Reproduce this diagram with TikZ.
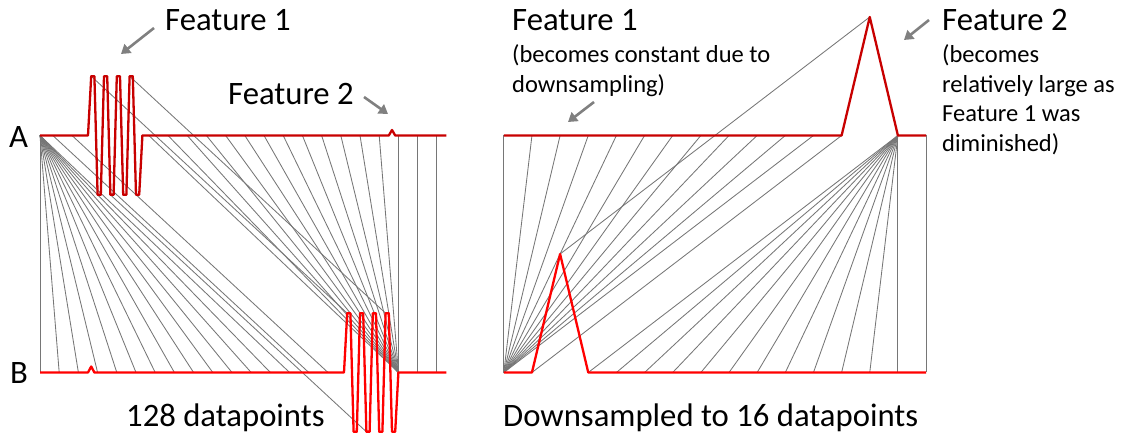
\documentclass[tikz,border=0pt]{standalone}
\usepackage{fontspec}
\setmainfont{Carlito}
\usetikzlibrary{arrows.meta}
\definecolor{sigdark}{RGB}{200,0,0}
\definecolor{sigbright}{RGB}{255,0,0}
\definecolor{linkgray}{RGB}{118,118,118}
\definecolor{pointgray}{RGB}{128,128,128}
\begin{document}
\begin{tikzpicture}[x=1pt,y=-1pt,
  link/.style={draw=linkgray, line width=0.85pt},
  sigA/.style={draw=sigdark, line width=2.3pt, line join=round},
  sigB/.style={draw=sigbright, line width=2.3pt, line join=round},
  big/.style={font=\fontsize{32.7}{39}\selectfont, inner sep=0pt, anchor=base west},
  small/.style={font=\fontsize{24.5}{29.6}\selectfont, inner sep=0pt, anchor=base west},
  pointer/.style={draw=pointgray, line width=2.6pt, -{Triangle[length=9pt,width=11pt]}}]
\useasboundingbox (0,0) rectangle (1122,435);

% ---------------- left panel: 128 samples ----------------
\foreach \i in {0,...,127}{
  \pgfmathsetmacro\k{\i-16}
  \pgfmathsetmacro\offA{ifthenelse(and(\k>=0,\k<=15), ifthenelse(mod(floor(\k/2),2)==0,-59.3,59.3), ifthenelse(\i==110,-5.5,0))}
  \pgfmathsetmacro\kb{\i-96}
  \pgfmathsetmacro\offB{ifthenelse(and(\kb>=0,\kb<=15), ifthenelse(mod(floor(\kb/2),2)==0,-59.3,59.3), ifthenelse(\i==16,-6,0))}
  \coordinate (a\i) at ({40+3.2*\i},{135.5+\offA});
  \coordinate (b\i) at ({40+3.2*\i},{372.5+\offB});
}
% warping links (every 6th step of the path)
\foreach \s in {0,6,...,204}{
  \pgfmathtruncatemacro\ii{max(0,\s-80)}
  \pgfmathtruncatemacro\jj{ifthenelse(\s>192,\s-80,min(\s,112))}
  \draw[link] (a\ii) -- (b\jj);
}
\draw[sigA] (a0) \foreach \i in {1,...,127}{ -- (a\i)};
\draw[sigB] (b0) \foreach \i in {1,...,127}{ -- (b\i)};

% ---------------- right panel: 16 samples ----------------
\foreach \i in {0,...,15}{
  \pgfmathsetmacro\offA{ifthenelse(\i==13,-118.5,0)}
  \pgfmathsetmacro\offB{ifthenelse(\i==2,-118.5,0)}
  \coordinate (ra\i) at ({503.8+28.15*\i},{135.5+\offA});
  \coordinate (rb\i) at ({503.8+28.15*\i},{372.5+\offB});
}
\foreach \p/\q in {0/0,1/0,2/0,3/0,4/0,5/0,6/0,7/0,8/0,9/0,10/0,11/0,12/1,13/2,
                   14/3,14/4,14/5,14/6,14/7,14/8,14/9,14/10,14/11,14/12,14/13,14/14,15/15}{
  \draw[link] (ra\p) -- (rb\q);
}
\draw[sigA] (ra0) \foreach \i in {1,...,15}{ -- (ra\i)};
\draw[sigB] (rb0) \foreach \i in {1,...,15}{ -- (rb\i)};

% ---------------- labels ----------------
\node[big] (lA) at (9,147.3) {A};
\node[big] (lB) at (10,383.3) {B};
\node[big] (lf1) at (165,31) {Feature 1};
\node[big] (lf2) at (228,105) {Feature 2};
\node[big] (l128) at (126,427) {128 datapoints};

\node[big] (rf1) at (512,31) {Feature 1};
\node[small] (rf1a) at (512,63) {(becomes constant due to};
\node[small] (rf1b) at (512,92.5) {downsampling)};
\node[big] (rf2) at (942,31) {Feature 2};
\node[small] (rf2a) at (942,63) {(becomes};
\node[small] (rf2b) at (942,92.5) {relatively large as};
\node[small] (rf2c) at (942,122) {Feature 1 was};
\node[small] (rf2d) at (942,151.5) {diminished)};
\node[big] (rds) at (503,427) {Downsampled to 16 datapoints};

% ---------------- pointers ----------------
\coordinate (p1s) at (154,28);  \coordinate (p1e) at (121,54);
\coordinate (p2s) at (364,97);  \coordinate (p2e) at (388,114);
\coordinate (p3s) at (594,102); \coordinate (p3e) at (568,122);
\coordinate (p4s) at (929,20);  \coordinate (p4e) at (904,40);
\draw[pointer] (p1s) -- (p1e);
\draw[pointer] (p2s) -- (p2e);
\draw[pointer] (p3s) -- (p3e);
\draw[pointer] (p4s) -- (p4e);
\end{tikzpicture}
\end{document}
